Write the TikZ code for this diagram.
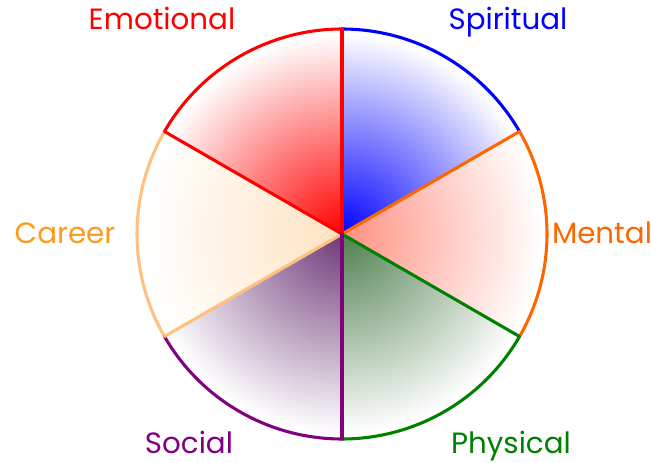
\documentclass[tikz,border=0pt]{standalone}
\usepackage{fontspec}
\setmainfont{Poppins}
\usetikzlibrary{positioning}
\definecolor{cemo}{HTML}{FF0000}
\definecolor{cspi}{HTML}{0000FF}
\definecolor{cmen}{HTML}{FF6600}
\definecolor{cphy}{HTML}{008000}
\definecolor{csoc}{HTML}{800080}
\definecolor{ccar}{HTML}{FFC080}
\definecolor{tcar}{HTML}{FF9A1A}
\definecolor{smen}{HTML}{FF9080}
\definecolor{scar}{HTML}{FFE2C0}
\definecolor{ssoc}{HTML}{6E3A78}
\definecolor{sphy}{HTML}{4F7F4F}
\tikzset{lbl/.style={font=\fontsize{22}{26}\selectfont, anchor=base},
  rim/.style={line width=2.3pt, line cap=round}}

\begin{document}
\begin{tikzpicture}[x=0.75pt, y=0.75pt]
\useasboundingbox (0,0) rectangle (651,462);

\coordinate (c) at (342,228);
\foreach \a in {30,90,150,210,270,330} \path (c) ++(\a:205) coordinate (p\a);

\foreach \a/\col in {30/cspi, 90/cemo, 150/scar, 210/ssoc, 270/sphy, 330/smen} {
  \begin{scope}
  \clip (c) -- (p\a) arc[start angle=\a, delta angle=60, radius=205] -- cycle;
  \shade[inner color=\col, outer color=white] (c) circle[radius=200];
  \end{scope}
}

\foreach \a/\col in {30/cspi, 90/cemo, 150/ccar, 210/csoc, 270/cphy, 330/cmen}
  \draw[rim, \col] (p\a) arc[start angle=\a, delta angle=60, radius=205];

\foreach \a/\col in {210/ccar, 330/cphy, 30/cmen, 150/cemo, 90/cemo, 270/csoc}
  \draw[rim, \col] (c) -- (p\a);

\node[lbl, text=cemo] (emo) at (162,432) {Emotional};
\node[lbl, text=cspi] (spi) at (508,432) {Spiritual};
\node[lbl, text=tcar] (car) at (65,219) {Career};
\node[lbl, text=cmen] (men) at (602,219) {Mental};
\node[lbl, text=csoc] (soc) at (189,9) {Social};
\node[lbl, text=cphy] (phy) at (511,9) {Physical};

\end{tikzpicture}
\end{document}
